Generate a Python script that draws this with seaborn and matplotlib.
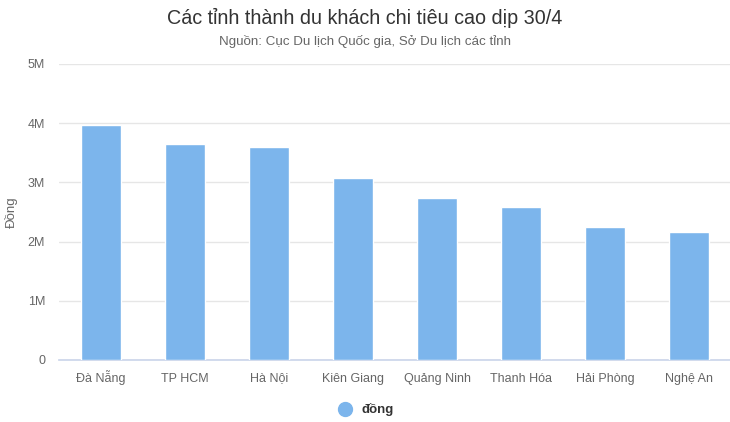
import matplotlib
matplotlib.use("Agg")
import matplotlib.pyplot as plt
import matplotlib.transforms as mtransforms
from matplotlib.ticker import FuncFormatter
from matplotlib.lines import Line2D
import seaborn as sns
import pandas as pd

provinces = ["Đà Nẵng", "TP HCM", "Hà Nội", "Kiên Giang", "Quảng Ninh",
             "Thanh Hóa", "Hải Phòng", "Nghệ An"]
spending = [3970000, 3650000, 3590000, 3070000, 2730000, 2580000, 2250000, 2160000]
y_ticks = [0, 1000000, 2000000, 3000000, 4000000, 5000000]

sns.set_theme(style="white")
plt.rcParams['font.family'] = ['Liberation Sans', 'DejaVu Sans']

df = pd.DataFrame({"province": provinces, "value": spending})

fig = plt.figure(figsize=(7.3, 4.22), dpi=100)
ax = fig.add_axes([59 / 730, 1 - 360 / 422, 672 / 730, 296 / 422])

sns.barplot(data=df, x="province", y="value", color="#7cb5ec", saturation=1,
            width=0.48, ax=ax, zorder=3)

ax.set_ylim(0, 5000000)
ax.set_xlim(-0.5, len(provinces) - 0.5)
ax.set_yticks(y_ticks)
ax.yaxis.set_major_formatter(FuncFormatter(lambda v, p: "0" if v == 0 else f"{int(v / 1e6)}M"))
ax.grid(axis="y", color="#e6e6e6", linewidth=1, zorder=0)
for s in ["top", "right", "left"]:
    ax.spines[s].set_visible(False)
ax.spines["bottom"].set_color("#ccd6eb")
ax.tick_params(axis="both", length=0, labelsize=9, colors="#666666")
ax.tick_params(axis="y", pad=10)
ax.tick_params(axis="x", pad=16)
for lbl in ax.get_xticklabels():
    lbl.set_va("baseline")
    # the dot-below glyph throws the baseline off a bit, nudge it back up
    if lbl.get_text() == "Hà Nội":
        lbl.set_transform(lbl.get_transform() +
                          mtransforms.ScaledTranslation(0, 1 / 100, fig.dpi_scale_trans))
ax.set_xlabel("")
ax.set_ylabel("Đồng", fontsize=9.5, color="#666666")
ax.yaxis.label.set_va("center")
ax.yaxis.set_label_coords((11 - 59) / 672, 0.5)

fig.text(0.5, 1 - 18 / 422, "Các tỉnh thành du khách chi tiêu cao dịp 30/4",
         ha="center", va="center", fontsize=14.2, color="#333333")
fig.text(0.5, 1 - 42 / 422, "Nguồn: Cục Du lịch Quốc gia, Sở Du lịch các tỉnh",
         ha="center", va="center", fontsize=9.6, color="#666666")

handle = Line2D([], [], marker="o", linestyle="", markersize=10,
                markerfacecolor="#7cb5ec", markeredgecolor="#7cb5ec")
fig.legend([handle], ["đồng"], loc="center", bbox_to_anchor=(0.497, 1 - 410 / 422),
           frameon=False, handletextpad=0.3, prop={"weight": "bold", "size": 9.5})
for t in fig.legends[0].get_texts():
    t.set_color("#333333")

fig.savefig("out.png", dpi=100)
